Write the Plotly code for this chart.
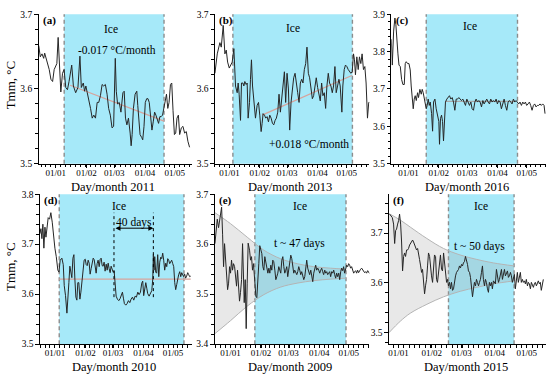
import pandas as pd
import plotly.graph_objects as go

FONT = "Liberation Serif"
W, H = 550, 380

# ---------------- data (day offsets from 1 January of the given year, Tmm in degC) ----------------
year_a = 2011
days_a = [-17.3,-15.7,-14,-12.3,-11.3,-10,-8.3,-6.7,-5,-3.3,
          -1.7,0,1,2.3,3.7,5,6.7,8.3,10,11.7,
          13.3,15,16,17.7,20,22.3,24.3,25.7,27.7,29,
          30.3,31.7,33.3,35,36.7,38.3,40,41.7,43.3,45,
          46.7,48.3,50,51.7,53.3,55,56.7,58.3,60,61,
          62.3,64,65.7,67.7,69,70.3,71.7,73.3,75,76,
          77,78.3,80,81.7,82.7,84,85,86.7,87.7,89,
          90.3,91.7,93,94.3,95.7,97,98.3,99.7,101,102.3,
          103.7,105,106.3,107.7,109,110.3,111.7,113,114.3,115.7,
          117,118.3,119.7,121,122.3,123.7,125,126.7,128.3,130,
          131.7,133.3,135]
tmm_a = [3.658,3.643,3.647,3.641,3.648,3.641,3.636,3.626,3.613,3.610,
         3.626,3.632,3.634,3.669,3.634,3.596,3.621,3.626,3.602,3.599,
         3.610,3.626,3.632,3.604,3.595,3.602,3.644,3.602,3.608,3.597,
         3.604,3.595,3.582,3.574,3.561,3.565,3.561,3.582,3.582,3.591,
         3.606,3.604,3.606,3.593,3.574,3.565,3.548,3.550,3.641,3.597,
         3.580,3.582,3.569,3.595,3.597,3.561,3.552,3.561,3.541,3.524,
         3.539,3.574,3.593,3.597,3.578,3.556,3.539,3.535,3.532,3.550,
         3.582,3.587,3.587,3.582,3.565,3.545,3.556,3.569,3.565,3.558,
         3.554,3.563,3.563,3.565,3.576,3.587,3.593,3.574,3.582,3.606,
         3.608,3.571,3.539,3.541,3.561,3.565,3.539,3.548,3.550,3.541,
         3.543,3.530,3.522]
ice_a = [8.4, 109.2]
trend_days_a = [14.4, 109.2]
trend_vals_a = [3.605, 3.557]

year_b = 2013
days_b = [-15.0,-12.6,-9.9,-8.5,-6.5,-4.8,-3.4,-2.0,-0.3,1.0,
          2.7,4.4,6.1,7.8,8.8,9.8,11.2,12.2,13.6,14.6,
          15.6,17.0,18.0,19.0,20.4,21.4,22.4,23.5,24.8,26.5,
          28.2,29.6,30.9,32.3,33.3,34.3,35.7,37.0,38.4,39.8,
          41.1,42.5,43.9,45.2,46.6,47.9,49.3,50.6,52.0,53.4,
          54.7,56.1,57.4,58.8,60.2,61.5,62.9,64.3,65.6,67.0,
          68.3,69.7,71.1,72.4,73.8,75.1,76.5,77.9,79.2,80.6,
          81.9,83.3,84.7,86.0,87.4,88.7,90.1,91.5,92.8,94.2,
          95.5,96.9,98.3,99.6,101.0,102.3,103.7,105.1,106.4,107.8,
          109.1,110.5,111.9,113.2,114.9,115.9,117.3,118.6,120.0,121.4,
          122.7,124.1,125.5,126.8,127.8,128.8,130.2,131.6,132.9,134.3,
          135.6,137.0,138.4,139.7,141.1,142.4,143.5]
tmm_b = [3.621,3.647,3.662,3.656,3.685,3.647,3.652,3.636,3.628,3.632,
         3.636,3.654,3.604,3.595,3.608,3.593,3.558,3.608,3.608,3.604,
         3.610,3.606,3.608,3.561,3.582,3.613,3.639,3.604,3.582,3.561,
         3.578,3.582,3.565,3.543,3.554,3.567,3.565,3.561,3.563,3.556,
         3.565,3.561,3.554,3.552,3.558,3.561,3.569,3.593,3.569,3.587,
         3.608,3.623,3.582,3.621,3.600,3.545,3.582,3.600,3.615,3.621,
         3.604,3.595,3.582,3.608,3.613,3.608,3.626,3.634,3.656,3.621,
         3.615,3.604,3.587,3.591,3.604,3.615,3.602,3.591,3.584,3.608,
         3.591,3.595,3.574,3.604,3.621,3.608,3.604,3.595,3.604,3.630,
         3.595,3.604,3.613,3.604,3.569,3.604,3.626,3.632,3.630,3.626,
         3.623,3.621,3.623,3.647,3.639,3.619,3.643,3.626,3.643,3.634,
         3.647,3.626,3.630,3.608,3.561,3.582,3.582]
ice_b = [3.4, 125.7]
trend_days_b = [33.3, 125.1]
trend_vals_b = [3.565, 3.618]

year_c = 2016
days_c = [-17.7,-16.7,-15.3,-14.0,-13.0,-11.9,-10.9,-9.8,-8.5,-7.1,
          -5.8,-4.4,-3.4,-2.4,-1.0,0.4,1.7,2.7,3.8,4.8,
          5.8,6.8,7.9,9.2,10.2,11.6,13.0,14.0,15.0,16.1,
          17.1,18.1,19.1,20.1,21.2,22.2,23.6,24.6,25.6,27.0,
          28.3,29.7,31.0,31.7,32.7,33.8,34.8,35.8,36.8,37.8,
          39.2,40.6,41.9,43.3,44.7,46.0,47.4,48.8,50.2,51.5,
          52.9,54.2,55.6,57.0,58.3,59.7,61.1,62.4,63.8,65.1,
          66.5,67.9,69.2,70.6,72.0,73.3,74.7,76.1,77.4,78.8,
          80.1,81.5,82.9,84.2,85.6,86.9,88.3,89.7,91.0,92.4,
          93.8,95.1,96.5,97.9,99.2,100.6,102.0,103.3,104.7,106.0,
          107.4,108.8,110.1,111.5,112.9,114.2,115.6,117.0,118.3,119.7,
          121.0,122.4,123.8,125.1,126.5,127.9,129.2,130.6,131.9,133.3,
          134.7,136.0,137.4,138.8,139.8]
tmm_c = [3.833,3.764,3.855,3.890,3.872,3.820,3.794,3.764,3.760,3.725,
         3.712,3.712,3.768,3.773,3.768,3.768,3.751,3.708,3.673,3.647,
         3.673,3.682,3.669,3.690,3.677,3.699,3.686,3.699,3.690,3.677,
         3.665,3.647,3.656,3.673,3.656,3.665,3.634,3.587,3.665,3.673,
         3.647,3.626,3.613,3.552,3.621,3.630,3.613,3.561,3.639,3.665,
         3.673,3.677,3.682,3.673,3.677,3.665,3.643,3.673,3.673,3.677,
         3.673,3.669,3.673,3.665,3.656,3.673,3.665,3.656,3.665,3.647,
         3.643,3.665,3.673,3.665,3.669,3.665,3.652,3.669,3.660,3.665,
         3.673,3.665,3.660,3.673,3.665,3.669,3.665,3.673,3.660,3.669,
         3.665,3.647,3.665,3.673,3.656,3.643,3.665,3.669,3.665,3.660,
         3.673,3.665,3.669,3.665,3.660,3.665,3.656,3.665,3.660,3.665,
         3.656,3.660,3.665,3.656,3.643,3.656,3.660,3.652,3.656,3.656,
         3.660,3.656,3.660,3.656,3.634]
ice_c = [18.1, 111.6]
trend_days_c = [37.5, 109.1]
trend_vals_c = [3.667, 3.667]

year_d = 2010
days_d = [-15.2,-14.2,-13.2,-12.2,-11.2,-10.1,-9.1,-8.1,-6.8,-5.4,
          -4.1,-2.7,-1.4,0,1.4,3.0,4.1,5.4,7.1,8.5,
          9.5,10.8,12.2,13.2,14.2,15.2,16.2,17.2,18.3,19.3,
          20.3,21.3,22.3,23.3,24.3,25.4,26.4,27.7,28.7,29.7,
          30.8,31.8,32.8,33.8,34.8,35.8,36.8,37.9,38.9,39.9,
          40.9,41.9,42.9,43.9,45.0,46.0,47.0,48.0,49.0,50.0,
          51.0,52.1,53.1,54.1,55.1,56.1,57.1,58.1,59.2,60.2,
          61.2,62.2,63.5,64.9,66.2,67.6,68.6,69.6,70.6,72.0,
          73.3,74.7,76.1,77.4,78.8,80.1,81.5,82.8,84.2,85.5,
          86.9,88.2,89.2,90.2,91.3,92.3,93.3,94.3,95.7,97.0,
          98.4,99.4,100.0,100.7,101.4,102.4,103.4,104.4,105.5,106.5,
          107.5,108.5,109.5,110.5,111.5,112.6,113.6,114.6,115.6,116.6,
          117.6,118.6,119.7,120.7,121.7,122.7,123.7,124.7,125.7,126.8,
          127.8,128.8,129.8,130.8,131.8,132.8,133.8,134.9,135.9,136.9,
          137.9]
tmm_d = [3.721,3.731,3.711,3.740,3.692,3.734,3.714,3.737,3.753,3.750,
         3.763,3.744,3.714,3.692,3.675,3.648,3.644,3.668,3.672,3.659,
         3.617,3.597,3.562,3.604,3.623,3.656,3.644,3.633,3.672,3.679,
         3.630,3.594,3.588,3.623,3.623,3.590,3.604,3.633,3.646,3.668,
         3.670,3.659,3.657,3.668,3.662,3.640,3.651,3.664,3.672,3.669,
         3.657,3.642,3.661,3.668,3.655,3.670,3.672,3.657,3.656,3.664,
         3.646,3.660,3.648,3.662,3.651,3.643,3.656,3.648,3.644,3.646,
         3.623,3.596,3.590,3.587,3.591,3.597,3.604,3.592,3.581,3.578,
         3.581,3.587,3.583,3.590,3.594,3.588,3.596,3.594,3.604,3.599,
         3.604,3.622,3.626,3.597,3.617,3.623,3.612,3.601,3.596,3.603,
         3.607,3.630,3.679,3.648,3.675,3.644,3.642,3.679,3.635,3.664,
         3.674,3.671,3.682,3.668,3.648,3.662,3.655,3.671,3.668,3.661,
         3.665,3.668,3.661,3.655,3.623,3.609,3.619,3.633,3.639,3.645,
         3.635,3.643,3.639,3.635,3.640,3.632,3.636,3.643,3.639,3.635,
         3.636]
ice_d = [4.4, 131.1]
trend_days_d = [4.4, 137.9]
trend_vals_d = [3.630, 3.630]
window_d = ["2010-03-02", "2010-04-11"]   # 40 days

year_e = 2009
days_e = [-15.9,-14.5,-13.5,-12.2,-11.2,-10.1,-9.1,-8.1,-7.1,-6.1,
          -5.1,-4.1,-3.0,-2.0,-1.0,0,1.0,2.0,3.0,4.1,
          5.1,6.1,7.1,8.1,9.1,10.1,11.2,12.2,13.2,13.9,
          14.9,15.9,16.9,17.9,19.3,20.3,21.3,22.3,23.3,24.3,
          25.7,26.7,27.7,28.7,29.7,30.8,31.8,32.8,33.8,34.8,
          35.8,36.8,37.9,38.9,39.9,40.9,41.9,42.9,43.9,45.0,
          46.0,47.0,48.0,49.0,50.0,51.0,52.1,53.1,54.1,55.1,
          56.1,57.1,58.1,59.2,60.2,61.2,62.2,63.2,64.2,65.2,
          66.2,67.3,68.3,69.3,70.3,71.3,72.3,73.3,74.4,75.4,
          76.4,77.4,78.4,79.4,80.4,81.5,82.5,83.5,84.5,85.5,
          86.5,87.5,88.6,89.6,90.6,91.6,92.6,93.6,94.6,95.7,
          96.7,97.7,98.7,99.7,100.7,101.7,102.8,103.8,104.8,105.8,
          106.8,107.8,108.8,109.9,110.9,111.9,112.9,113.9,114.9,115.9,
          116.9,118.0,119.0,120.0,121.0,122.0,123.0,124.0,125.1,126.1,
          127.1,128.1,129.1,130.1,131.1,132.2,133.2,134.2,135.2,136.2,
          137.2,138.2,139.3,140.3,141.3]
tmm_e = [3.601,3.627,3.650,3.633,3.646,3.656,3.674,3.620,3.555,3.601,
         3.568,3.535,3.509,3.522,3.555,3.542,3.568,3.548,3.561,3.555,
         3.529,3.516,3.548,3.522,3.486,3.503,3.529,3.601,3.542,3.483,
         3.529,3.431,3.522,3.602,3.588,3.568,3.575,3.548,3.561,3.522,
         3.496,3.493,3.548,3.561,3.597,3.588,3.581,3.555,3.548,3.575,
         3.561,3.555,3.542,3.552,3.542,3.558,3.548,3.568,3.565,3.548,
         3.529,3.535,3.542,3.555,3.548,3.542,3.568,3.575,3.555,3.542,
         3.548,3.555,3.535,3.555,3.561,3.578,3.571,3.548,3.542,3.548,
         3.542,3.539,3.545,3.555,3.548,3.539,3.545,3.535,3.529,3.535,
         3.552,3.568,3.552,3.542,3.539,3.548,3.535,3.525,3.542,3.552,
         3.558,3.548,3.552,3.548,3.542,3.548,3.552,3.545,3.539,3.548,
         3.542,3.545,3.539,3.542,3.545,3.535,3.545,3.542,3.548,3.539,
         3.532,3.542,3.535,3.542,3.529,3.545,3.552,3.547,3.555,3.542,
         3.550,3.558,3.555,3.561,3.558,3.552,3.555,3.547,3.542,3.545,
         3.547,3.542,3.548,3.543,3.547,3.550,3.552,3.548,3.545,3.543,
         3.545,3.542,3.547,3.544,3.541]
ice_e = [24.7, 117.3]
env_days_e = [-15.9, 0, 16.9, 33.8, 50.7, 67.6, 84.5, 101.4, 117.3]
env_upper_e = [3.663, 3.641, 3.614, 3.588, 3.571, 3.561, 3.555, 3.552, 3.550]
env_lower_e = [3.421, 3.447, 3.476, 3.499, 3.514, 3.522, 3.527, 3.530, 3.532]

year_f = 2015
days_f = [-8.4,-7.2,-5.9,-4.7,-3.7,-2.8,-1.9,-0.9,0,0.9,
          1.9,2.8,3.7,4.7,5.6,6.5,7.5,8.4,9.3,10.3,
          11.2,12.1,13.1,14.0,15.0,15.9,16.8,17.8,18.7,19.6,
          20.6,21.5,22.4,23.4,24.3,25.2,26.2,27.1,28.0,29.0,
          29.9,30.8,31.8,32.7,33.6,34.6,35.5,36.4,37.4,38.3,
          39.2,40.2,41.1,42.1,43.0,43.9,44.9,45.8,46.7,47.7,
          48.6,49.5,50.5,51.4,52.3,53.3,54.2,55.1,56.1,57.0,
          57.9,58.9,59.8,60.7,61.7,62.6,63.5,64.5,65.4,66.4,
          67.3,68.2,69.2,70.1,71.0,72.0,72.9,73.8,74.8,75.7,
          76.6,77.6,78.5,79.4,80.4,81.3,82.2,83.2,84.1,85.0,
          86.0,86.9,87.8,88.8,89.7,90.6,91.6,92.5,93.5,94.4,
          95.3,96.3,97.2,98.1,99.1,100.0,100.9,101.9,102.8,103.7,
          104.7,105.6,106.5,107.5,108.4,109.3,110.3,111.2,112.1,113.1,
          114.0,114.9,115.9,116.8,117.8,118.7,119.6,120.6,121.5,122.4,
          123.4,124.3,125.2,126.2,127.1,128.0,129.0,129.9,130.8,131.8,
          132.7,133.6,134.6,135.5]
tmm_f = [3.738,3.735,3.731,3.718,3.679,3.705,3.708,3.718,3.725,3.738,
         3.718,3.682,3.624,3.653,3.660,3.653,3.666,3.666,3.669,3.676,
         3.679,3.682,3.686,3.682,3.676,3.673,3.666,3.669,3.653,3.647,
         3.634,3.621,3.627,3.601,3.578,3.594,3.607,3.634,3.660,3.653,
         3.627,3.614,3.601,3.640,3.656,3.653,3.607,3.601,3.621,3.647,
         3.656,3.627,3.624,3.660,3.643,3.614,3.601,3.607,3.594,3.601,
         3.588,3.601,3.585,3.588,3.604,3.614,3.621,3.624,3.627,3.634,
         3.630,3.637,3.634,3.640,3.643,3.653,3.647,3.637,3.624,3.621,
         3.611,3.588,3.572,3.588,3.601,3.594,3.607,3.601,3.594,3.601,
         3.607,3.621,3.634,3.607,3.594,3.607,3.601,3.588,3.581,3.601,
         3.594,3.601,3.588,3.604,3.601,3.598,3.627,3.614,3.601,3.607,
         3.621,3.627,3.607,3.617,3.627,3.614,3.621,3.624,3.611,3.614,
         3.621,3.614,3.601,3.611,3.617,3.588,3.614,3.621,3.601,3.614,
         3.621,3.601,3.607,3.601,3.604,3.598,3.607,3.594,3.601,3.598,
         3.588,3.601,3.594,3.591,3.598,3.601,3.594,3.601,3.604,3.598,
         3.601,3.585,3.598,3.607]
ice_f = [46.7, 108.1]
env_days_f = [-9.0, 1.6, 10.9, 26.5, 42.1, 57.6, 73.2, 88.8, 108.1]
env_upper_f = [3.739, 3.726, 3.712, 3.689, 3.669, 3.656, 3.647, 3.640, 3.634]
env_lower_f = [3.500, 3.523, 3.539, 3.557, 3.572, 3.583, 3.591, 3.598, 3.604]

y_title = "Tmm, °C"
x_title = "Day/month {}"
tick_fmt = "%d/%m"

# ---------------- helpers ----------------
def to_dates(year, days):
    base = pd.Timestamp(year=year, month=1, day=1)
    return [base + pd.Timedelta(days=float(d)) for d in days]

def px(x):
    return x / W

def py(y):
    return 1 - y / H

# panel layout (pixel boxes, axis windows)
panels = [
    dict(key="a", year=year_a, days=days_a, vals=tmm_a, ice=ice_a, xr=[-17.4, 137.1], yr=[3.5, 3.7],
         box=[37.7, 191, 9.5, 163]),
    dict(key="b", year=year_b, days=days_b, vals=tmm_b, ice=ice_b, xr=[-15.0, 143.0], yr=[3.5, 3.7],
         box=[214.3, 369, 9.5, 163]),
    dict(key="c", year=year_c, days=days_c, vals=tmm_c, ice=ice_c, xr=[-17.7, 140.8], yr=[3.5, 3.9],
         box=[391, 546, 9.5, 163]),
    dict(key="d", year=year_d, days=days_d, vals=tmm_d, ice=ice_d, xr=[-15.2, 138.9], yr=[3.5, 3.8],
         box=[39, 191, 194.3, 348.3]),
    dict(key="e", year=year_e, days=days_e, vals=tmm_e, ice=ice_e, xr=[-16.2, 141.0], yr=[3.4, 3.7],
         box=[214, 369, 194.3, 348.3]),
    dict(key="f", year=year_f, days=days_f, vals=tmm_f, ice=ice_f, xr=[-9.0, 138.0], yr=[3.477, 3.778],
         box=[388.7, 546, 194.3, 348.3]),
]

fig = go.Figure()
shapes = []
annotations = []

line_col = "#262626"
ice_col = "#a6e9f9"
trend_col = "#d7a39c"

for i, p in enumerate(panels, start=1):
    xa = "x" if i == 1 else f"x{i}"
    ya = "y" if i == 1 else f"y{i}"
    xk = "xaxis" if i == 1 else f"xaxis{i}"
    yk = "yaxis" if i == 1 else f"yaxis{i}"
    x0, x1, y0, y1 = p["box"]
    yr = p["yr"]
    base = pd.Timestamp(year=p["year"], month=1, day=1)
    xr = to_dates(p["year"], p["xr"])

    fig.layout[xk] = dict(
        domain=[px(x0), px(x1)], anchor=ya, type="date", range=xr,
        tickformat=tick_fmt, dtick="M1", tick0="2000-01-01",
        showline=True, linecolor="black", linewidth=1, mirror=False,
        ticks="outside", ticklen=3, tickwidth=1, tickcolor="black",
        ticklabelstandoff=-3,
        showgrid=False, zeroline=False,
        tickfont=dict(family=FONT, size=9, color="black"),
        minor=dict(ticks="outside", ticklen=2.5, tickwidth=1, tickcolor="black",
                   dtick=5 * 86400000, tick0=str(base.date()), showgrid=False),
    )
    fig.layout[yk] = dict(
        domain=[py(y1), py(y0)], anchor=xa, range=yr,
        dtick=0.1, tick0=3.5, tickformat=".1f",
        showline=True, linecolor="black", linewidth=1,
        ticks="outside", ticklen=3.5, tickwidth=1, tickcolor="black",
        showgrid=False, zeroline=False,
        tickfont=dict(family=FONT, size=9.5, color="black"),
        minor=dict(ticks="outside", ticklen=2.5, tickwidth=1, tickcolor="black",
                   dtick=0.02, tick0=3.5, showgrid=False),
    )

    # ice period
    ice = to_dates(p["year"], p["ice"])
    shapes.append(dict(type="rect", xref=xa, yref=f"{ya} domain", x0=ice[0], x1=ice[1], y0=0, y1=1,
                       fillcolor=ice_col, line=dict(width=0), layer="below"))
    for xd in ice:
        shapes.append(dict(type="line", xref=xa, yref=f"{ya} domain", x0=xd, x1=xd, y0=0, y1=1,
                           line=dict(color="#8c8c8c", width=1.4, dash="4px,3px"), layer="below"))

    # panel letter & x-axis title
    annotations.append(dict(text=f"<b>({p['key']})</b>", xref="paper", yref="paper",
                            x=px(x0 + 2.5), y=py(y0 + 6), xanchor="left", yanchor="middle",
                            showarrow=False, font=dict(family=FONT, size=11, color="black")))
    annotations.append(dict(text=x_title.format(p["year"]), xref="paper", yref="paper",
                            x=px((x0 + x1) / 2 - 2), y=py(y1 + 23.5), xanchor="center", yanchor="middle",
                            showarrow=False, font=dict(family=FONT, size=12.5, color="black")))

# envelopes (drawn first so that series lie on top)
for i, (yr_, ed, eu, el) in {5: (year_e, env_days_e, env_upper_e, env_lower_e),
                             6: (year_f, env_days_f, env_upper_f, env_lower_f)}.items():
    xs = to_dates(yr_, ed)
    fig.add_trace(go.Scatter(x=xs, y=eu, mode="lines", line=dict(color="#b4b4b4", width=1, shape="spline"),
                             xaxis=f"x{i}", yaxis=f"y{i}", hoverinfo="skip"))
    fig.add_trace(go.Scatter(x=xs, y=el, mode="lines", line=dict(color="#b4b4b4", width=1, shape="spline"),
                             fill="tonexty", fillcolor="rgba(160,160,160,0.24)",
                             xaxis=f"x{i}", yaxis=f"y{i}", hoverinfo="skip"))

# trend lines
for i, (yr_, td, tv, col) in {1: (year_a, trend_days_a, trend_vals_a, trend_col),
                              2: (year_b, trend_days_b, trend_vals_b, trend_col),
                              3: (year_c, trend_days_c, trend_vals_c, "#a8a8a8"),
                              4: (year_d, trend_days_d, trend_vals_d, trend_col)}.items():
    fig.add_trace(go.Scatter(x=to_dates(yr_, td), y=tv, mode="lines", line=dict(color=col, width=1.3),
                             xaxis="x" if i == 1 else f"x{i}", yaxis="y" if i == 1 else f"y{i}"))

# data series
for i, p in enumerate(panels, start=1):
    fig.add_trace(go.Scatter(x=to_dates(p["year"], p["days"]), y=p["vals"], mode="lines",
                             line=dict(color=line_col, width=1),
                             xaxis="x" if i == 1 else f"x{i}", yaxis="y" if i == 1 else f"y{i}"))

# panel (d) 40-day window
for xd in window_d:
    shapes.append(dict(type="line", xref="x4", yref="y4", x0=xd, x1=xd, y0=3.594, y1=3.763,
                       line=dict(color="black", width=1, dash="dot")))
annotations.append(dict(x=window_d[1], y=3.732, ax=window_d[0], ay=3.732, xref="x4", yref="y4",
                        axref="x4", ayref="y4", text="", showarrow=True, arrowhead=2, arrowside="end+start",
                        arrowsize=1, arrowwidth=1, arrowcolor="black"))

def txt(text, x, y, size=11.5):
    annotations.append(dict(text=text, xref="paper", yref="paper", x=px(x), y=py(y),
                            xanchor="center", yanchor="middle", showarrow=False,
                            font=dict(family=FONT, size=size, color="black")))

txt("Ice", 110, 24.3)
txt("-0.017 °C/month", 116.7, 46.7)
txt("Ice", 292.7, 24)
txt("+0.018 °C/month", 308.3, 142.3)
txt("Ice", 470, 22)
txt("Ice", 118.3, 206.7)
txt("40 days", 133.3, 223.3)
txt("Ice", 299.3, 206)
txt("t ~ 47 days", 299.3, 245)
txt("Ice", 481, 206)
txt("t ~ 50 days", 479.3, 247.7)

for yc in (82, 268.5):
    annotations.append(dict(text=y_title, xref="paper", yref="paper", x=px(9.5), y=py(yc),
                            xanchor="center", yanchor="middle", textangle=-90, showarrow=False,
                            font=dict(family=FONT, size=13, color="black")))

fig.update_layout(
    width=W, height=H, margin=dict(l=0, r=0, t=0, b=0),
    paper_bgcolor="white", plot_bgcolor="white",
    showlegend=False, shapes=shapes, annotations=annotations,
    font=dict(family=FONT, color="black"),
)

# remove the browser's default page margin so the 550x380 figure fills the window exactly
fig.write_html("out.html", config={"displayModeBar": False},
               post_script="document.body.style.margin='0';document.body.style.overflow='hidden';")
